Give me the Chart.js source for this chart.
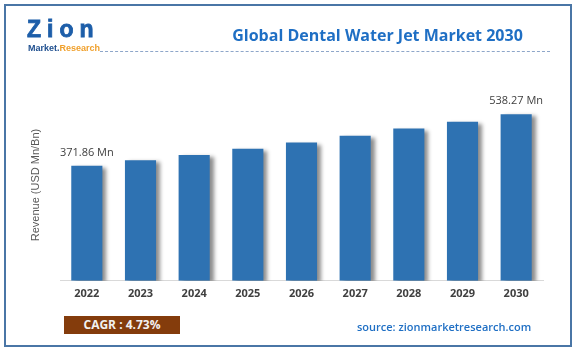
<!DOCTYPE html>
<html lang="en">
<head>
  <meta charset="UTF-8">
  <title>Global Dental Water Jet Market 2030</title>
  <script src="https://cdn.jsdelivr.net/npm/chart.js"></script>
  <style>
    html, body { margin: 0; padding: 0; background: #fff; }
    #wrap { position: relative; width: 578px; height: 354px; overflow: hidden; font-family: "Open Sans", "Liberation Sans", sans-serif; }
    #frame { position: absolute; left: 4px; top: 4px; width: 564px; height: 339px; border: 2px solid #4a76a6; }
    #chart { position: absolute; left: 0; top: 0; }
    .logo { position: absolute; left: 27px; top: 16px; font-family: "Liberation Sans", sans-serif; font-weight: bold; font-size: 23px; color: #1d5ea9; letter-spacing: 6px; -webkit-text-stroke: 0.8px #1d5ea9; }
    .logo-sub { position: absolute; left: 28px; top: 43px; font-family: "Liberation Sans", sans-serif; font-weight: bold; font-size: 9px; color: #1f4f8f; }
    .logo-sub span { color: #f0a02c; }
    .dash { position: absolute; left: 100px; top: 51px; width: 450px; border-top: 1px dashed #8ea6c9; }
    .title { position: absolute; left: 230px; top: 24px; width: 295px; text-align: center; font-weight: bold; font-size: 16px; color: #1f6fc4; white-space: nowrap; }
    .ytitle { position: absolute; left: 35px; top: 185px; transform: translate(-50%, -50%) rotate(-90deg); font-family: "Liberation Sans", sans-serif; font-size: 11px; color: #595959; white-space: nowrap; }
    .cagr { position: absolute; left: 64px; top: 316px; width: 116px; height: 18px; line-height: 18px; background: #843c0c; color: #f2f2f2; text-align: center; font-weight: bold; font-size: 12px; }
    .source { position: absolute; left: 357px; top: 319px; font-weight: 600; font-size: 11px; color: #1f6fc4; white-space: nowrap; }
  </style>
</head>
<body>
  <div id="wrap">
    <canvas id="chart" width="578" height="354"></canvas>
    <div id="frame"></div>
    <div class="logo">Zion</div>
    <div class="logo-sub">Market.<span>Research</span></div>
    <div class="dash"></div>
    <div class="title">Global Dental Water Jet Market 2030</div>
    <div class="ytitle">Revenue (USD Mn/Bn)</div>
    <div class="cagr">CAGR : 4.73%</div>
    <div class="source">source: zionmarketresearch.com</div>
  </div>

  <script>
    // Chart data
    var years = ['2022', '2023', '2024', '2025', '2026', '2027', '2028', '2029', '2030'];
    var revenue = [371.86, 389.5, 406.5, 427, 447, 469, 492, 514, 538.27];
    var valueLabels = ['371.86 Mn', '', '', '', '', '', '', '', '538.27 Mn'];

    // Soft grey shadow to the right of the bars
    var barShadow = {
      id: 'barShadow',
      beforeDatasetDraw: function(chart) {
        var ctx = chart.ctx;
        ctx.save();
        ctx.shadowColor = 'rgba(0,0,0,0.45)';
        ctx.shadowBlur = 4;
        ctx.shadowOffsetX = 4;
        ctx.shadowOffsetY = 2;
      },
      afterDatasetDraw: function(chart) {
        chart.ctx.restore();
      }
    };

    // Labels above the first and last bar
    var barLabels = {
      id: 'barLabels',
      afterDatasetsDraw: function(chart) {
        var ctx = chart.ctx;
        var meta = chart.getDatasetMeta(0);
        ctx.save();
        ctx.font = '11px "Open Sans", sans-serif';
        ctx.fillStyle = '#404040';
        ctx.textAlign = 'center';
        ctx.textBaseline = 'middle';
        meta.data.forEach(function(bar, i) {
          if (valueLabels[i]) ctx.fillText(valueLabels[i], bar.x, bar.y - 13);
        });
        ctx.restore();
      }
    };

    new Chart(document.getElementById('chart').getContext('2d'), {
      type: 'bar',
      data: {
        labels: years,
        datasets: [{
          data: revenue,
          backgroundColor: '#2e72b2',
          borderWidth: 0,
          categoryPercentage: 1,
          barPercentage: 0.58
        }]
      },
      options: {
        responsive: false,
        animation: false,
        layout: { padding: { left: 60, right: 35, top: 89, bottom: 48 } },
        plugins: { legend: { display: false }, tooltip: { enabled: false } },
        scales: {
          x: {
            grid: { display: false, drawTicks: false },
            border: { display: true, color: '#d9d9d9', width: 1 },
            ticks: { padding: 6, color: '#404040', font: { family: 'Open Sans', size: 11, weight: 'bold' } }
          },
          y: { display: false, min: 0, max: 620 }
        }
      },
      plugins: [barShadow, barLabels]
    });
  </script>
</body>
</html>
